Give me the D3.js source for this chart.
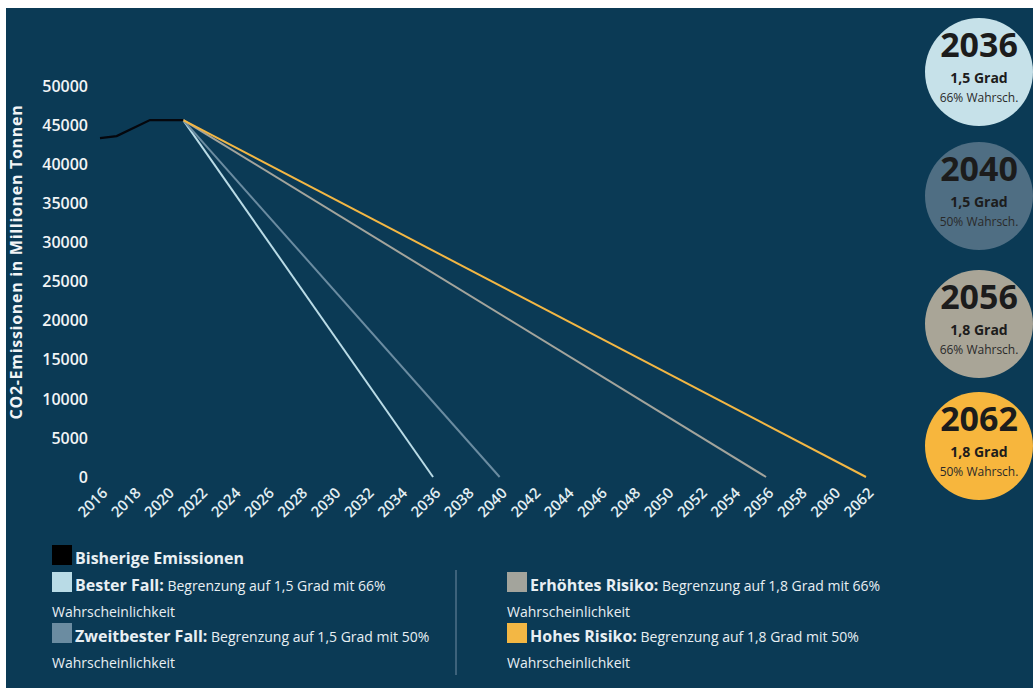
<!DOCTYPE html>
<html><head><meta charset="utf-8">
<script src="https://cdn.jsdelivr.net/npm/d3@7"></script>
<style>
body{margin:0;background:#fff;}
svg{display:block;font-family:"Open Sans",sans-serif;}
</style></head>
<body>
<svg id="c" width="1033" height="688"></svg>
<script>
// ---- data ----
const histYears = [2016, 2017, 2019, 2020, 2021];
const histValues = [43400, 43650, 45700, 45700, 45700];
const scenarioNames = ["Bester Fall", "Zweitbester Fall", "Erhöhtes Risiko", "Hohes Risiko"];
const scenarioEndYears = [2036, 2040, 2056, 2062];
const scenarioColors = ["#b9dbe6", "#6b8ca1", "#a3a49c", "#f3b744"];
const circleColors = ["#c6e1e9", "#4f6e83", "#a9a597", "#f7b63d"];
const circleDeg = ["1,5 Grad", "1,5 Grad", "1,8 Grad", "1,8 Grad"];
const circleProb = ["66% Wahrsch.", "50% Wahrsch.", "66% Wahrsch.", "50% Wahrsch."];
const yTicks = [0, 5000, 10000, 15000, 20000, 25000, 30000, 35000, 40000, 45000, 50000];
const xTicks = d3.range(2016, 2063, 2);
const legendDesc = ["Begrenzung auf 1,5 Grad mit 66%", "Begrenzung auf 1,5 Grad mit 50%",
                    "Begrenzung auf 1,8 Grad mit 66%", "Begrenzung auf 1,8 Grad mit 50%"];

const svg = d3.select("#c");
svg.append("rect").attr("x", 6).attr("y", 8).attr("width", 1027).attr("height", 680).attr("fill", "#0b3a55");

const x = d3.scaleLinear().domain([2016, 2062]).range([100, 866]);
const y = d3.scaleLinear().domain([0, 50000]).range([477, 86.5]);

// y axis labels
const ya = svg.append("g").attr("transform", "translate(88,0)")
  .call(d3.axisLeft(y).tickValues(yTicks).tickSize(0).tickPadding(0).tickFormat(d3.format("d")));
ya.select(".domain").remove();
ya.selectAll("text").attr("fill", "#f2f4f5").style("font-size", "16px").style("font-weight", 600)
  .style("font-family", "Open Sans");

// x axis labels
const xa = svg.append("g").attr("transform", "translate(0,477)")
  .call(d3.axisBottom(x).tickValues(xTicks).tickSize(0).tickFormat(d3.format("d")));
xa.select(".domain").remove();
xa.selectAll("text").attr("fill", "#e2eef2").style("font-size", "15px").style("font-weight", 600)
  .style("font-family", "Open Sans")
  .attr("text-anchor", "end").attr("dy", null).attr("y", 0)
  .attr("transform", "translate(8,17) rotate(-45)");

// y title
svg.append("text").attr("transform", "translate(22,262) rotate(-90)")
  .attr("text-anchor", "middle").attr("fill", "#f2f4f5")
  .style("font-size", "16px").style("font-weight", 700).style("letter-spacing", "0.7px")
  .text("CO2-Emissionen in Millionen Tonnen");

// scenario lines
const line = d3.line().x(d => x(d[0])).y(d => y(d[1]));
const lastYear = histYears[histYears.length - 1], lastVal = histValues[histValues.length - 1];
scenarioEndYears.forEach((yr, i) => {
  svg.append("path").attr("d", line([[lastYear, lastVal], [yr, 0]]))
    .attr("stroke", scenarioColors[i]).attr("stroke-width", 2).attr("fill", "none");
});
// historical
svg.append("path").attr("d", line(histYears.map((d, i) => [d, histValues[i]])))
  .attr("stroke", "#05070d").attr("stroke-width", 2.2).attr("fill", "none");

// circles
const cys = [72, 196, 324, 446];
scenarioEndYears.forEach((yr, i) => {
  const g = svg.append("g").attr("transform", `translate(979,${cys[i]})`);
  g.append("circle").attr("r", 54).attr("fill", circleColors[i]);
  g.append("text").attr("y", -15).attr("text-anchor", "middle").attr("fill", "#1c1c1c")
    .style("font-size", "34px").style("font-weight", 700).text(yr);
  g.append("text").attr("y", 11).attr("text-anchor", "middle").attr("fill", "#1c1c1c")
    .style("font-size", "14px").style("font-weight", 700).text(circleDeg[i]);
  g.append("text").attr("y", 30).attr("text-anchor", "middle").attr("fill", "#2a2a2a")
    .style("font-size", "12px").style("font-weight", 400).text(circleProb[i]);
});

// legend
const txtCol = "#e8eff3";
function legItem(sx, sy, color, bold, desc) {
  svg.append("rect").attr("x", sx).attr("y", sy).attr("width", 20).attr("height", 20).attr("fill", color);
  const t = svg.append("text").attr("x", sx + 23).attr("y", sy + 19).attr("fill", txtCol);
  t.append("tspan").style("font-size", "16px").style("font-weight", 700).text(bold);
  if (desc) {
    t.append("tspan").style("font-size", "14px").style("font-weight", 400).text(" " + desc);
    svg.append("text").attr("x", sx).attr("y", sy + 45).attr("fill", txtCol)
      .style("font-size", "14px").text("Wahrscheinlichkeit");
  }
}
legItem(52, 545, "#000000", "Bisherige Emissionen", null);
legItem(52, 572, scenarioColors[0], scenarioNames[0] + ":", legendDesc[0]);
legItem(52, 623, scenarioColors[1], scenarioNames[1] + ":", legendDesc[1]);
legItem(507, 572, scenarioColors[2], scenarioNames[2] + ":", legendDesc[2]);
legItem(507, 623, scenarioColors[3], scenarioNames[3] + ":", legendDesc[3]);
svg.append("line").attr("x1", 456).attr("x2", 456).attr("y1", 570).attr("y2", 675)
  .attr("stroke", "#4f7089").attr("stroke-width", 1.5);
</script>
</body></html>
